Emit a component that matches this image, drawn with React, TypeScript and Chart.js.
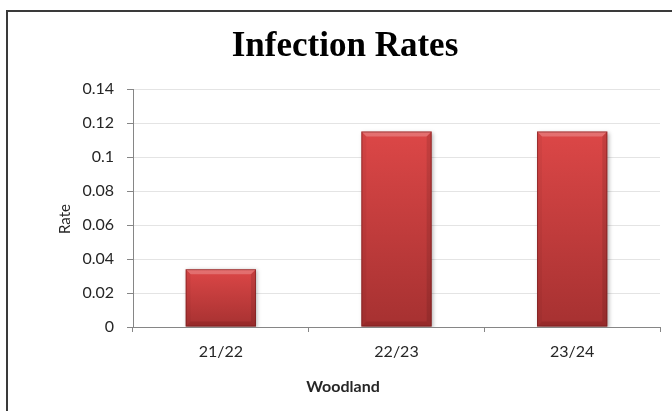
import React, { useEffect, useRef } from "react";
import { Chart, registerables } from "chart.js";

Chart.register(...registerables);

// Infection rate per season
const seasons = ["21/22", "22/23", "23/24"];
const rates = [0.034, 0.115, 0.115];
const yMin = 0;
const yMax = 0.14;
const yStep = 0.02;

const chartTitle = "Infection Rates";
const xTitle = "Woodland";
const yTitle = "Rate";

const WIDTH = 672;
const HEIGHT = 411;
const FRAME_LEFT = 7;
const FRAME_TOP = 11;

const textColor = "#262626";
const axisColor = "#868686";

// White background plus the dark frame along the left and top edges
const framePlugin = {
  id: "frame",
  beforeDraw(chart: any) {
    const { ctx } = chart;
    ctx.save();
    ctx.fillStyle = "#ffffff";
    ctx.fillRect(0, 0, chart.width, chart.height);
    ctx.strokeStyle = "#3a3a3a";
    ctx.lineWidth = 2;
    ctx.beginPath();
    ctx.moveTo(FRAME_LEFT, chart.height + 4);
    ctx.lineTo(FRAME_LEFT, FRAME_TOP);
    ctx.lineTo(chart.width + 4, FRAME_TOP);
    ctx.stroke();
    ctx.restore();
  },
};

// Axis titles: the horizontal one sits at the middle of the framed chart,
// the vertical one slightly below the middle of the plot area
const axisTitlesPlugin = {
  id: "axisTitles",
  afterDraw(chart: any) {
    const { ctx, chartArea } = chart;
    ctx.save();
    ctx.fillStyle = textColor;
    ctx.textAlign = "center";
    ctx.textBaseline = "middle";
    ctx.font = "bold 16px Lato";
    ctx.fillText(xTitle, (chart.width + 2 * FRAME_LEFT) / 2, chartArea.bottom + 60);
    ctx.translate(65, (chartArea.top + chartArea.bottom) / 2 + 11);
    ctx.rotate(-Math.PI / 2);
    ctx.font = "15px Lato";
    ctx.fillText(yTitle, 0, 0);
    ctx.restore();
  },
};

// Soft drop shadow under the bars and a bevelled look on each bar
const bevelPlugin = {
  id: "bevel",
  beforeDatasetsDraw(chart: any) {
    const { ctx } = chart;
    ctx.save();
    ctx.shadowColor = "rgba(0,0,0,0.3)";
    ctx.shadowBlur = 4;
    ctx.shadowOffsetX = 1.5;
    ctx.shadowOffsetY = 1;
  },
  afterDatasetsDraw(chart: any) {
    const { ctx } = chart;
    ctx.restore();
    const meta = chart.getDatasetMeta(0);
    meta.data.forEach((bar: any) => {
      const { x, y, base, width } = bar.getProps(["x", "y", "base", "width"], true);
      const l = x - width / 2;
      const r = x + width / 2;
      const t = y;
      const b = base;
      const d = Math.min(5, (b - t) / 4);
      const poly = (pts: number[][], fill: string) => {
        ctx.beginPath();
        ctx.moveTo(pts[0][0], pts[0][1]);
        for (let i = 1; i < pts.length; i++) ctx.lineTo(pts[i][0], pts[i][1]);
        ctx.closePath();
        ctx.fillStyle = fill;
        ctx.fill();
      };
      ctx.save();
      poly([[l, t], [r, t], [r - d, t + d], [l + d, t + d]], "rgba(255,235,235,0.25)");
      poly([[l, t], [l + d, t + d], [l + d, b - d], [l, b]], "rgba(0,0,0,0.04)");
      poly([[r, t], [r - d, t + d], [r - d, b - d], [r, b]], "rgba(0,0,0,0.1)");
      poly([[l, b], [l + d, b - d], [r - d, b - d], [r, b]], "rgba(60,0,0,0.14)");
      ctx.strokeStyle = "rgba(110,25,25,0.55)";
      ctx.lineWidth = 1;
      ctx.strokeRect(l + 0.5, t + 0.5, width - 1, b - t - 1);
      ctx.restore();
    });
  },
};

const tickFont = { family: "Lato", size: 16 };

export default function App() {
  const canvasRef = useRef<HTMLCanvasElement | null>(null);

  useEffect(() => {
    const canvas = canvasRef.current;
    if (!canvas) return;
    const chart = new Chart(canvas, {
      type: "bar",
      data: {
        labels: seasons,
        datasets: [
          {
            label: yTitle,
            data: rates,
            backgroundColor: (c: any) => {
              const ch = c.chart;
              const ys = ch.scales && ch.scales.y;
              if (!ys || typeof c.raw !== "number") return "#c83c3c";
              const top = ys.getPixelForValue(c.raw);
              const bottom = ys.getPixelForValue(0);
              if (!Number.isFinite(top) || !Number.isFinite(bottom) || top === bottom) return "#c83c3c";
              const g = ch.ctx.createLinearGradient(0, top, 0, bottom);
              g.addColorStop(0, "#dc4747");
              g.addColorStop(1, "#a63131");
              return g;
            },
            borderWidth: 0,
            categoryPercentage: 1,
            barPercentage: 0.4,
          },
        ],
      },
      options: {
        responsive: false,
        animation: false,
        layout: { padding: { left: 30, right: 12, top: 0, bottom: 0 } },
        plugins: {
          legend: { display: false },
          tooltip: { enabled: false },
          title: {
            display: true,
            text: chartTitle,
            color: "#000000",
            font: { family: "Liberation Serif", size: 35, weight: "bold" },
            padding: { top: 26, bottom: 21 },
          },
        },
        scales: {
          x: {
            grid: {
              display: true,
              drawOnChartArea: false,
              offset: true,
              tickLength: 5,
              color: axisColor,
              tickColor: axisColor,
            },
            border: { color: axisColor, width: 1, z: 1 },
            ticks: { color: textColor, font: tickFont, padding: 10 },
            title: { display: false },
            afterFit: (s: any) => {
              s.height = 84;
            },
          },
          y: {
            min: yMin,
            max: yMax,
            grid: {
              color: "#e4e4e4",
              tickColor: axisColor,
              tickLength: 6,
            },
            border: { color: axisColor, width: 1 },
            ticks: {
              stepSize: yStep,
              color: textColor,
              font: tickFont,
              padding: 13,
              callback: (v: any) => String(Number(Number(v).toFixed(2))),
            },
            title: { display: false },
            afterFit: (s: any) => {
              s.width = 103;
            },
          },
        },
      },
      plugins: [framePlugin, bevelPlugin, axisTitlesPlugin],
    });
    return () => chart.destroy();
  }, []);

  return (
    <div style={{ position: "fixed", left: 0, top: 0, width: WIDTH, height: HEIGHT, background: "#fff" }}>
      <canvas ref={canvasRef} width={WIDTH} height={HEIGHT} style={{ display: "block" }} />
    </div>
  );
}
